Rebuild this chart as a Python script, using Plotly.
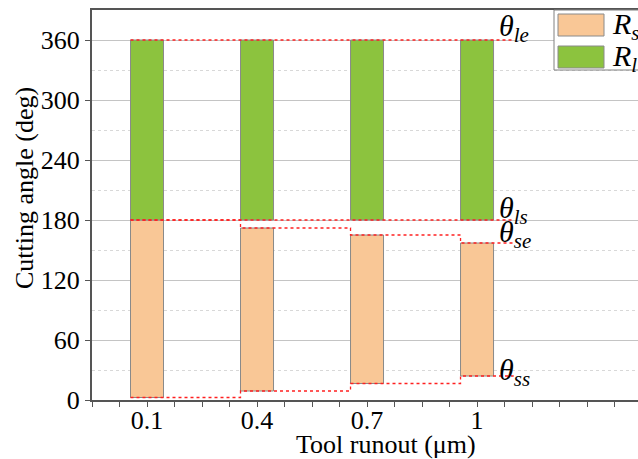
import plotly.graph_objects as go

# ---- data ----
runout = [0.1, 0.4, 0.7, 1.0]            # tool runout (um)
theta_ss = [2.5, 9.0, 16.5, 24.0]        # start of Rs region (deg)
theta_se = [180.0, 172.0, 165.0, 157.0]  # end of Rs region (deg)
theta_ls = [180.0, 180.0, 180.0, 180.0]  # start of Rl region (deg)
theta_le = [360.0, 360.0, 360.0, 360.0]  # end of Rl region (deg)

x_tick_vals = [0.1, 0.4, 0.7, 1.0]
x_tick_text = ["0.1", "0.4", "0.7", "1"]
y_tick_vals = [0, 60, 120, 180, 240, 300, 360]
y_tick_text = ["0", "60", "120", "180", "240", "300", "360"]

# ---- style ----
FONT = "Liberation Serif"
BAR_W = 0.09
LINE_END = 1.1
RS_COLOR = "#F9C796"
RL_COLOR = "#8CC33E"
EDGE = "#8a8a8a"
W, H = 638, 459
ML, MR, MT, MB = 92, 0, 10, 59
PW, PH = W - ML - MR, H - MT - MB


def px(x):
    return (x - ML) / PW


def py(y):
    return (MT + PH - y) / PH


fig = go.Figure()

fig.add_trace(go.Bar(
    x=runout, y=[e - s for s, e in zip(theta_ss, theta_se)], base=theta_ss,
    width=BAR_W, marker=dict(color=RS_COLOR, line=dict(color=EDGE, width=1)),
    name="Rs", showlegend=False, hoverinfo="skip"))
fig.add_trace(go.Bar(
    x=runout, y=[e - s for s, e in zip(theta_ls, theta_le)], base=theta_ls,
    width=BAR_W, marker=dict(color=RL_COLOR, line=dict(color=EDGE, width=1)),
    name="Rl", showlegend=False, hoverinfo="skip"))

left_edges = [r - BAR_W / 2 for r in runout]
for vals in (theta_ss, theta_se, theta_ls, theta_le):
    fig.add_trace(go.Scatter(
        x=left_edges + [LINE_END], y=vals + [vals[-1]], mode="lines",
        line=dict(color="#ff2020", width=1.3, dash="dot", shape="hv"),
        showlegend=False, hoverinfo="skip"))

# theta labels
labels = [("le", theta_le[-1] + 12), ("ls", theta_ls[-1] + 10),
          ("se", theta_se[-1] + 9), ("ss", theta_ss[-1] + 4)]
for sub, yv in labels:
    fig.add_annotation(x=px(497), xref="paper", y=yv, yref="y",
                       text="<i>θ<sub>%s</sub></i>" % sub, showarrow=False,
                       xanchor="left", yanchor="middle",
                       font=dict(family=FONT, size=30, color="black"))

# manual legend
shapes = [dict(type="rect", xref="paper", yref="paper",
               x0=px(554), x1=px(641), y0=py(70), y1=py(10),
               fillcolor="white", line=dict(color="#808080", width=1),
               layer="above")]
for (y0, y1, col, sub) in [(14, 36, RS_COLOR, "s"), (46, 68, RL_COLOR, "l")]:
    shapes.append(dict(type="rect", xref="paper", yref="paper",
                       x0=px(558), x1=px(604), y0=py(y1), y1=py(y0),
                       fillcolor=col, line=dict(color=EDGE, width=1),
                       layer="above"))
    fig.add_annotation(x=px(610), xref="paper", y=py((y0 + y1) / 2 + 1), yref="paper",
                       text="<i>R<sub>%s</sub></i>" % sub, showarrow=False,
                       xanchor="left", yanchor="middle",
                       font=dict(family=FONT, size=30, color="black"))

# axis titles
fig.add_annotation(x=px(386), xref="paper", y=py(444), yref="paper",
                   text="Tool runout (μm)", showarrow=False,
                   xanchor="center", yanchor="middle",
                   font=dict(family=FONT, size=26, color="black"))
fig.add_annotation(x=px(24), xref="paper", y=py(188), yref="paper",
                   text="Cutting angle (deg)", showarrow=False, textangle=-90,
                   xanchor="center", yanchor="middle",
                   font=dict(family=FONT, size=26, color="black"))

fig.update_layout(
    width=W, height=H, margin=dict(l=ML, r=MR, t=MT, b=MB),
    paper_bgcolor="white", plot_bgcolor="white",
    barmode="overlay", shapes=shapes,
    font=dict(family=FONT, size=26, color="black"),
    xaxis=dict(range=[-0.05, -0.05 + PW / 366.7], tickmode="array",
               tickvals=x_tick_vals, ticktext=x_tick_text,
               ticks="outside", ticklen=5, tickcolor="#555", tickwidth=1,
               ticklabelstandoff=-9,
               showgrid=False, zeroline=False,
               showline=True, linecolor="#555", linewidth=2, mirror=True,
               minor=dict(tickmode="linear", tick0=-0.05, dtick=0.075,
                          ticks="outside", ticklen=5, tickcolor="#555",
                          showgrid=False),
               tickfont=dict(family=FONT, size=26)),
    yaxis=dict(range=[0, 390], tickmode="array",
               tickvals=y_tick_vals, ticktext=y_tick_text,
               ticks="outside", ticklen=5, tickcolor="#555", tickwidth=1,
               showgrid=True, gridcolor="#c4c4c4", gridwidth=1,
               zeroline=False, showline=True, linecolor="#555", linewidth=2,
               minor=dict(tickmode="linear", tick0=30, dtick=60,
                          showgrid=True, gridcolor="#d8d8d8", griddash="dot",
                          ticks=""),
               tickfont=dict(family=FONT, size=26)),
)

fig.write_html("out.html")
